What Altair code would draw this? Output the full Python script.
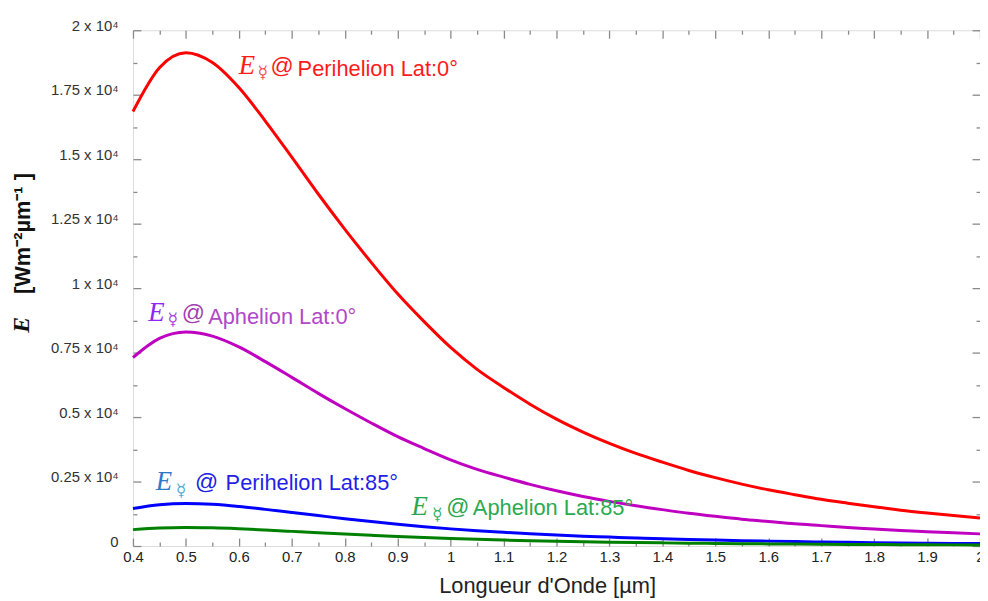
import altair as alt
import pandas as pd

# ---------------- data ----------------
wavelength = [0.40, 0.45, 0.50, 0.55, 0.60, 0.65, 0.70, 0.75, 0.80, 0.85, 0.90,
              0.95, 1.00, 1.05, 1.10, 1.15, 1.20, 1.25, 1.30, 1.35, 1.40, 1.45,
              1.50, 1.55, 1.60, 1.65, 1.70, 1.75, 1.80, 1.85, 1.90, 1.95, 2.00]

perihelion_lat0 = [16850, 18550, 19130, 18750, 17780, 16480, 15080, 13650, 12290, 11000, 9780,
                   8700, 7700, 6850, 6150, 5500, 4920, 4420, 3980, 3590, 3250, 2930,
                   2650, 2400, 2180, 1990, 1810, 1660, 1520, 1390, 1280, 1180, 1085]
aphelion_lat0 = [7310, 8050, 8300, 8140, 7720, 7150, 6540, 5920, 5330, 4770, 4240,
                 3780, 3340, 2970, 2670, 2390, 2140, 1920, 1730, 1560, 1410, 1270,
                 1150, 1040, 950, 860, 790, 720, 660, 600, 555, 510, 470]
perihelion_lat85 = [1455, 1600, 1650, 1620, 1535, 1420, 1300, 1180, 1060, 950, 845,
                    750, 665, 590, 530, 475, 425, 380, 345, 310, 280, 253,
                    229, 207, 189, 172, 156, 143, 131, 120, 110, 102, 94]
aphelion_lat85 = [635, 698, 720, 705, 668, 620, 567, 513, 462, 414, 368,
                  327, 290, 258, 231, 207, 185, 166, 150, 135, 122, 110,
                  100, 90, 82, 75, 68, 62, 57, 52, 48, 44, 41]

series_names = ["Perihelion Lat:0°", "Aphelion Lat:0°", "Perihelion Lat:85°", "Aphelion Lat:85°"]
series_values = [perihelion_lat0, aphelion_lat0, perihelion_lat85, aphelion_lat85]
line_colors = ["#ff0000", "#bf00c0", "#0000ff", "#008000"]

x_major = [0.4, 0.5, 0.6, 0.7, 0.8, 0.9, 1.0, 1.1, 1.2, 1.3, 1.4, 1.5, 1.6, 1.7, 1.8, 1.9, 2.0]
x_minor = [0.45, 0.55, 0.65, 0.75, 0.85, 0.95, 1.05, 1.15, 1.25, 1.35, 1.45, 1.55, 1.65, 1.75, 1.85, 1.95]
y_major = [0, 2500, 5000, 7500, 10000, 12500, 15000, 17500, 20000]
y_minor = [1250, 3750, 6250, 8750, 11250, 13750, 16250, 18750]

rows = []
for name, vals in zip(series_names, series_values):
    for w, v in zip(wavelength, vals):
        rows.append({"wl": w, "E": v, "series": name})
df = pd.DataFrame(rows)

# annotation pieces: (x, y) in data units
label_E = pd.DataFrame({"x": [0.600, 0.429, 0.443, 0.926], "y": [18308, 8742, 2165, 1204],
                        "t": ["E", "E", "E", "E"],
                        "c": ["#ff1a1a", "#8c28f0", "#2a7ac8", "#28a850"]})
label_m = pd.DataFrame({"x": [0.635, 0.465, 0.481, 0.965], "y": [18154, 8577, 1950, 1012],
                        "t": ["☿", "☿", "☿", "☿"],
                        "c": ["#f05050", "#a040e0", "#50aadc", "#30b060"]})
label_at = pd.DataFrame({"x": [0.660, 0.492, 0.517, 0.992], "y": [18346, 8750, 2212, 1250],
                         "t": ["@", "@", "@", "@"],
                         "c": ["#ff1a1a", "#a040b0", "#2020e0", "#28a850"]})
label_txt = pd.DataFrame({"x": [0.711, 0.542, 0.575, 1.042], "y": [18231, 8604, 2165, 1204],
                          "t": series_names,
                          "c": ["#ff1a1a", "#b048c8", "#1f1fe6", "#2aaa50"]})
one_row = pd.DataFrame({"k": [0]})

# ---------------- scales / axes ----------------
xs = alt.Scale(domain=[0.4, 2.0], nice=False, zero=False)
ys = alt.Scale(domain=[0, 20000], nice=False, zero=False)
GRAY = "#8a8a8a"
FONT = "Liberation Sans"


def ax(orient, values, size, labels=False, **kw):
    return alt.Axis(orient=orient, values=values, tickSize=size, offset=-size,
                    domain=False, grid=False, tickColor=GRAY, tickWidth=1.3,
                    labels=labels, title=None, **kw)


x_bottom = ax("bottom", x_major, 8, labels=True, format=".1~f", labelFont=FONT,
              labelFontSize=15, labelColor="#222", labelPadding=4,
              labelOverlap=False, labelFlush=False)
y_left = ax("left", y_major, 8, labels=True,
            labelExpr="datum.value == 0 ? '0' : format(datum.value / 10000, '~g') + ' x 10⁴'",
            labelFont=FONT, labelFontSize=15, labelColor="#333", labelPadding=15,
            labelBaseline="alphabetic", labelOverlap=False)

lines = alt.Chart(df).mark_line(strokeWidth=3, interpolate="monotone").encode(
    x=alt.X("wl:Q", scale=xs, axis=x_bottom),
    y=alt.Y("E:Q", scale=ys, axis=y_left),
    color=alt.Color("series:N", scale=alt.Scale(domain=series_names, range=line_colors), legend=None),
)


def ghost(xa, ya):
    return alt.Chart(df).mark_line(opacity=0).encode(
        x=alt.X("wl:Q", scale=xs, axis=xa),
        y=alt.Y("E:Q", scale=ys, axis=ya),
        detail="series:N",
    )


g1 = ghost(ax("bottom", x_minor, 4), ax("left", y_minor, 4))
g2 = ghost(ax("top", x_major, 8), ax("right", y_major, 8))
g3 = ghost(ax("top", x_minor, 4), ax("right", y_minor, 4))


def texts(data, font, size, style="normal"):
    return alt.Chart(data).mark_text(font=font, fontSize=size, fontStyle=style, align="left",
                                     baseline="alphabetic").encode(
        x=alt.X("x:Q", scale=xs, axis=None), y=alt.Y("y:Q", scale=ys, axis=None),
        text="t:N", color=alt.Color("c:N", scale=None))


t_E = texts(label_E, "Liberation Serif", 27, "italic")
t_m = texts(label_m, "DejaVu Sans", 17)
t_at = texts(label_at, FONT, 23)
t_txt = texts(label_txt, FONT, 22)

y_title = alt.Chart(one_row).mark_text(text="[Wm⁻²µm⁻¹ ]", font=FONT, fontSize=22, fontWeight="bold",
                                       angle=270, align="center", baseline="middle", color="#111").encode(
    x=alt.value(-111), y=alt.value(205))
y_title_E = alt.Chart(one_row).mark_text(text="E", font="Liberation Serif", fontSize=24, fontWeight="bold",
                                         fontStyle="italic", angle=270, align="center", baseline="middle",
                                         color="#111").encode(x=alt.value(-112), y=alt.value(297))
x_title = alt.Chart(one_row).mark_text(text="Longueur d'Onde [µm]", font=FONT, fontSize=22,
                                       align="center", baseline="alphabetic", color="#222").encode(
    x=alt.value(418), y=alt.value(567))

chart = alt.layer(lines, g1, g2, g3, t_E, t_m, t_at, t_txt, y_title, y_title_E, x_title).resolve_axis(
    x="independent", y="independent"
).properties(
    width=854, height=520,
    autosize=alt.AutoSizeParams(type="none"),
    padding={"left": 126, "top": 20, "right": 0, "bottom": 52},
).configure_view(stroke=GRAY, strokeWidth=1.5).configure(background="white")

chart.save("out.html", embed_options={"renderer": "svg", "actions": False})
